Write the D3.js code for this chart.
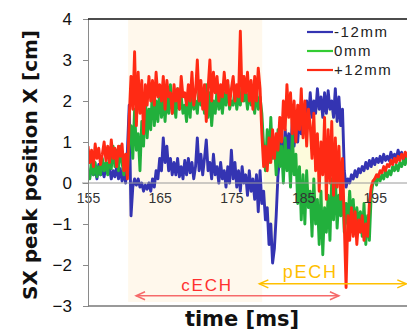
<!DOCTYPE html>
<html>
<head>
<meta charset="utf-8">
<script src="https://cdn.jsdelivr.net/npm/d3@7"></script>
<style>
  html, body { margin: 0; padding: 0; background: #fff; }
  svg { display: block; }
  .tick text { font-family: "Liberation Sans", Arial, sans-serif; }
</style>
</head>
<body>
<svg id="chart" width="407" height="331"></svg>
<script>
// sampling: one value every 0.25 ms from 155 ms
const tStart = 155;
const tStep = 0.25;

// +12mm (red)
const seriesP12 = [
  0.9,0.5,0.8,0.4, 0.95,0.6,0.85,0.45, 0.7,1.0,0.55,0.9, 0.5,1.05,0.6,0.85, 0.4,0.9,0.65,0.95,
  0.3,0.7,0.1,1.6, 2.6,1.8,3.2,1.4, 2.7,1.7,2.5,1.2, 2.4,1.9,2.6,2.0, 2.5,1.9,2.7,2.1,
  2.4,2.0,2.6,1.8, 2.5,2.1,2.2,1.7, 2.4,2.0,2.3,1.8, 2.6,2.1,2.2,1.9, 2.4,2.0,2.7,1.9,
  2.2,3.0,2.0,2.5, 1.8,2.4,1.5,2.3, 3.0,2.0,2.7,2.2, 2.6,2.0,2.4,2.1, 2.7,2.2,2.5,1.9,
  2.3,2.6,2.0,2.4, 2.1,3.7,2.0,2.6, 2.2,2.7,2.0,2.5, 1.8,2.6,2.0,2.8, 2.3,1.2,0.4,0.9,
  0.3,1.1,0.5,1.3, 0.6,1.2,0.8,1.6, 1.0,2.0,1.3,2.4, 1.6,2.2,1.2,2.0, 1.0,1.9,1.3,2.3,
  1.1,2.0,0.9,1.8, 1.4,0.6,1.7,0.3, 1.2,-0.2,1.0,0.2, 1.6,-0.4,1.3,0.0, 1.5,-0.3,1.1,-0.1,
  0.9,-0.4,0.6,-1.0, -2.55,-0.8,-1.4,-0.6, -1.3,-0.7,-1.5,-0.9, -1.2,-0.8,-1.4,-1.0, -1.3,-0.5,-0.1,0.05,
  0.1,0.2,0.15,0.3, 0.25,0.4,0.3,0.45, 0.4,0.55,0.45,0.6, 0.5,0.65,0.55,0.7, 0.6,0.75,0.65,0.8
];

// 0mm (green)
const series0 = [
  0.3,0.1,0.6,0.2, 0.5,0.15,0.4,0.2, 0.6,0.3,0.5,0.2, 0.7,0.35,0.9,0.4, 0.8,0.3,0.9,0.5,
  0.2,0.6,0.3,1.0, 1.4,0.6,1.8,0.8, 1.2,0.3,1.5,0.9, 2.1,1.1,1.8,1.3, 2.4,1.4,2.0,1.5,
  2.3,1.6,2.1,1.5, 2.2,1.7,2.4,1.7, 2.0,1.6,2.3,1.8, 2.1,1.7,1.9,1.5, 2.2,1.6,2.4,1.8,
  2.0,1.7,2.3,1.9, 2.1,1.7,2.4,1.6, 2.2,1.4,2.0,1.7, 2.3,1.8,2.1,1.7, 2.2,1.9,2.4,1.8,
  2.0,1.9,2.3,1.8, 2.1,1.9,2.4,2.0, 2.2,1.8,2.3,1.9, 2.0,1.7,2.3,1.8, 2.1,1.7,0.9,0.3,
  1.3,0.5,1.6,0.6, 1.0,0.2,1.3,0.4, 0.9,0.0,1.1,0.3, 0.8,-0.1,1.2,0.2, 0.7,-0.5,0.4,-0.9,
  0.2,-1.0,0.3,-0.6, -0.2,-1.3,0.1,-1.0, -0.4,-1.5,-0.2,-1.75, -0.6,-1.2,-0.3,-1.4, 0.1,-0.9,0.2,-1.1,
  -0.3,-0.8,-0.1,-1.2, -0.5,-1.0,-0.2,-0.9, -0.4,-1.2,-0.6,-1.0, -0.7,-1.3,-0.5,-1.5, -0.8,-1.4,-0.3,0.0,
  0.1,-0.05,0.2,0.05, 0.2,0.1,0.3,0.15, 0.3,0.2,0.4,0.3, 0.45,0.3,0.5,0.4, 0.55,0.45,0.65,0.55
];

// -12mm (blue)
const seriesM12 = [
  0.3,0.15,0.4,0.2, 0.35,0.1,0.45,0.2, 0.3,0.15,0.4,0.25, 0.35,0.1,0.3,0.15, 0.4,0.1,0.35,0.05,
  0.3,0.0,0.8,1.9, -0.8,-0.1,0.1,-0.05, 0.1,-0.1,0.0,-0.2, -0.05,-0.15,0.0,-0.2, 0.1,-0.1,0.3,0.1,
  0.6,0.3,1.1,0.5, 0.9,0.3,0.6,0.2, 0.5,0.2,0.6,0.15, 0.4,0.1,0.55,0.2, 0.6,0.25,0.5,0.1,
  0.4,1.1,0.3,0.7, 0.2,0.6,1.05,0.3, 0.5,0.1,0.7,0.2, 0.4,0.0,0.5,0.1, 0.3,-0.1,0.4,0.0,
  0.8,0.1,0.5,-0.1, 0.3,-0.2,0.4,0.0, 0.2,-0.3,0.3,-0.2, 0.1,-0.4,0.2,-0.7, 0.3,-0.5,-0.2,-0.9,
  -0.6,-1.5,-1.0,-1.95, -1.6,-0.8,0.2,0.6, 1.0,0.5,1.3,0.8, 1.2,0.7,1.5,0.9, 1.4,1.0,1.6,1.2,
  1.8,1.3,2.0,1.5, 2.2,1.6,2.0,1.7, 2.3,1.8,2.1,1.6, 2.2,1.7,2.25,1.8, 2.0,1.6,2.3,1.5,
  2.1,1.4,1.8,0.3, -0.1,0.1,0.0,0.2, 0.1,0.3,0.15,0.35, 0.25,0.4,0.3,0.5, 0.35,0.55,0.4,0.6,
  0.45,0.6,0.5,0.65, 0.5,0.7,0.55,0.65, 0.55,0.75,0.6,0.7, 0.6,0.8,0.65,0.75, 0.55,0.7,0.6,0.75
];

const seriesNames = ['-12mm', '0mm', '+12mm'];
const seriesColors = ['#3434b2', '#22b03c', '#ff2a14'];
const yTicks = [-3, -2, -1, 0, 1, 2, 3, 4];
const xTicks = [155, 165, 175, 185, 195];

// heating windows [start ms, end ms]
const cechSpan = [160.6, 179.3];
const cechArrow = [161.7, 190];
const pechArrow = [178.9, 199.4];

const svg = d3.select('#chart');
const width = 407;

const x = d3.scaleLinear().domain([155, 200]).range([88, 410.6]);
const y = d3.scaleLinear().domain([-3, 4]).range([306, 19]);

const times = seriesP12.map((_, i) => tStart + i * tStep);
const allSeries = [seriesM12, series0, seriesP12];

svg.append('defs').append('clipPath')
    .attr('id', 'plot-clip')
    .append('rect')
    .attr('x', 88).attr('y', 19)
    .attr('width', width - 88).attr('height', 287);

// cECH background shading
svg.append('rect')
    .attr('x', x(cechSpan[0]))
    .attr('y', y(4))
    .attr('width', x(cechSpan[1]) - x(cechSpan[0]))
    .attr('height', y(-2.9) - y(4))
    .attr('fill', '#fff8ec');

const plot = svg.append('g').attr('clip-path', 'url(#plot-clip)');

// pale fill between the traces after the cECH window
const envelope = times.map((t, i) => ({
    t: t,
    lo: Math.min(seriesM12[i], series0[i], seriesP12[i]),
    hi: Math.max(seriesM12[i], series0[i], seriesP12[i])
})).filter(d => d.t >= 179.5 && d.t <= 195.5);

plot.append('path')
    .datum(envelope)
    .attr('d', d3.area().x(d => x(d.t)).y0(d => y(d.lo)).y1(d => y(d.hi)))
    .attr('fill', '#fdfbdc');

// axes
const xAxis = svg.append('g')
    .attr('transform', `translate(0, ${y(0)})`)
    .call(d3.axisBottom(x).tickValues(xTicks).tickSize(0).tickPadding(10).tickFormat(d3.format('d')));
xAxis.select('.domain').remove();
xAxis.selectAll('text').attr('font-size', 14).attr('fill', '#333');

svg.append('line')
    .attr('x1', 82).attr('x2', width)
    .attr('y1', y(0)).attr('y2', y(0))
    .attr('stroke', '#9a9a9a').attr('stroke-width', 1);

const yAxis = svg.append('g')
    .attr('transform', 'translate(88, 0)')
    .call(d3.axisLeft(y).tickValues(yTicks).tickSize(5).tickPadding(11).tickFormat(d3.format('d')));
yAxis.select('.domain').attr('stroke', '#8a8a8a');
yAxis.selectAll('.tick line').attr('stroke', '#8a8a8a');
yAxis.selectAll('text').attr('font-size', 17).attr('fill', '#111');

// frame top and bottom
svg.append('line')
    .attr('x1', 88).attr('x2', width).attr('y1', y(4)).attr('y2', y(4))
    .attr('stroke', '#111').attr('stroke-width', 1.3);
svg.append('line')
    .attr('x1', 88).attr('x2', width).attr('y1', y(-3)).attr('y2', y(-3))
    .attr('stroke', '#777').attr('stroke-width', 1.6);

// traces
const line = d3.line().x((_, i) => x(times[i])).y(d => y(d));
allSeries.forEach((s, k) => {
    plot.append('path')
        .datum(s)
        .attr('d', line)
        .attr('fill', 'none')
        .attr('stroke', seriesColors[k])
        .attr('stroke-width', 2.9)
        .attr('stroke-linejoin', 'round');
});

// legend
const legend = svg.append('g').attr('font-family', '"Liberation Sans", Arial, sans-serif');
seriesNames.forEach((name, k) => {
    const ly = 32 + k * 19;
    legend.append('line')
        .attr('x1', 307).attr('x2', 333).attr('y1', ly).attr('y2', ly)
        .attr('stroke', k === 1 ? '#33cc33' : seriesColors[k]).attr('stroke-width', 2.2);
    legend.append('text')
        .attr('x', 334).attr('y', ly).attr('dy', '0.36em')
        .attr('font-size', 15).attr('letter-spacing', 1.6).attr('fill', '#222')
        .text(name);
});

// heating arrows
function arrow(span, v, color) {
    const x0 = x(span[0]), x1 = x(span[1]), yy = y(v);
    const g = svg.append('g').attr('stroke', color).attr('stroke-width', 1.5).attr('fill', 'none');
    g.append('line').attr('x1', x0).attr('x2', x1).attr('y1', yy).attr('y2', yy);
    g.append('path').attr('d', `M${x0 + 9},${yy - 4}L${x0},${yy}L${x0 + 9},${yy + 4}`);
    g.append('path').attr('d', `M${x1 - 9},${yy - 4}L${x1},${yy}L${x1 - 9},${yy + 4}`);
}
arrow(cechArrow, -2.75, '#f66a6a');
arrow(pechArrow, -2.46, '#ffc000');

svg.append('text')
    .attr('x', x(171.6)).attr('y', y(-2.63))
    .attr('text-anchor', 'middle')
    .attr('font-family', '"Liberation Sans", Arial, sans-serif')
    .attr('font-size', 17).attr('letter-spacing', 1.8).attr('fill', '#ff3030')
    .text('cECH');
svg.append('text')
    .attr('x', x(186)).attr('y', y(-2.32))
    .attr('text-anchor', 'middle')
    .attr('font-family', '"Liberation Sans", Arial, sans-serif')
    .attr('font-size', 18).attr('letter-spacing', 1.8).attr('fill', '#ffc000')
    .text('pECH');

// axis titles
svg.append('text')
    .attr('transform', 'translate(37, 165) rotate(-90)')
    .attr('text-anchor', 'middle')
    .attr('font-family', '"DejaVu Sans", Verdana, sans-serif')
    .attr('font-weight', 'bold').attr('font-size', 20).attr('fill', '#111')
    .text('SX peak position X [cm]');
svg.append('text')
    .attr('x', 242).attr('y', 326)
    .attr('text-anchor', 'middle')
    .attr('font-family', '"DejaVu Sans", Verdana, sans-serif')
    .attr('font-weight', 'bold').attr('font-size', 21).attr('fill', '#111')
    .text('time [ms]');
</script>
</body>
</html>
